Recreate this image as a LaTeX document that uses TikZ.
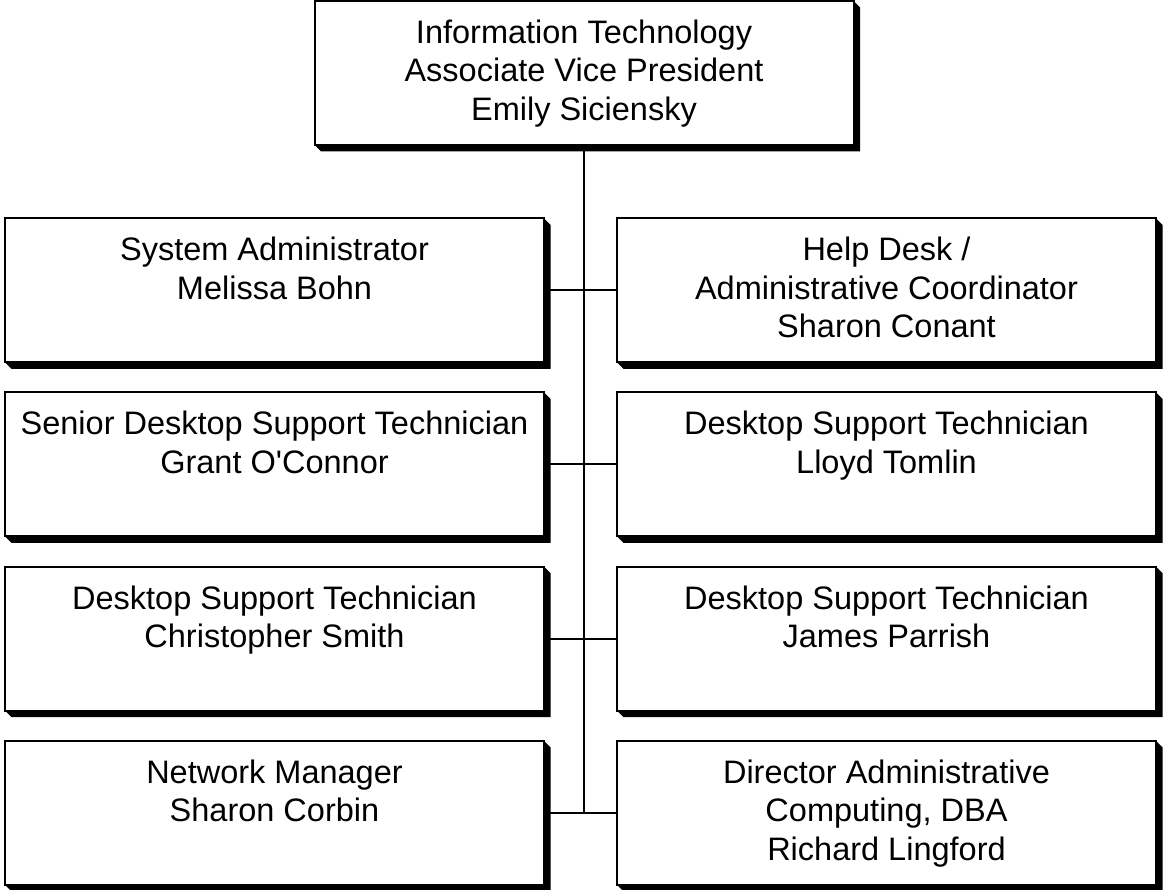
\documentclass[tikz,border=0pt]{standalone}
\usepackage{fontspec}
\newfontfamily\arial{Liberation Sans}
\newcommand\orgtext[1]{\begin{minipage}[t][144pt][t]{539pt}\centering\rule{0pt}{42.5pt}#1\end{minipage}}
\tikzset{
  orgbox/.style={draw, line width=2pt, fill=white, inner sep=0pt, outer sep=0pt, anchor=north west,
    font=\arial\fontsize{32.5}{38.3}\selectfont},
  link/.style={line width=2pt},
  shadowfill/.style={fill=black},
}
\begin{document}
\begin{tikzpicture}[x=1pt,y=1pt]
\useasboundingbox (0,0) rectangle (1163,-890);
\node[orgbox] (top) at (314.5,-1) {\orgtext{Information Technology\\Associate Vice President\\Emily Siciensky}};
\node[orgbox] (sa)  at (5,-218.3)   {\orgtext{System Administrator\\Melissa Bohn}};
\node[orgbox] (hd)  at (617,-218.3) {\orgtext{Help Desk /\\Administrative Coordinator\\Sharon Conant}};
\node[orgbox] (sd)  at (5,-392.5)   {\orgtext{Senior Desktop Support Technician\\Grant O'Connor}};
\node[orgbox] (lt)  at (617,-392.5) {\orgtext{Desktop Support Technician\\Lloyd Tomlin}};
\node[orgbox] (cs)  at (5,-566.7)   {\orgtext{Desktop Support Technician\\Christopher Smith}};
\node[orgbox] (jp)  at (617,-566.7) {\orgtext{Desktop Support Technician\\James Parrish}};
\node[orgbox] (nm)  at (5,-740.9)   {\orgtext{Network Manager\\Sharon Corbin}};
\node[orgbox] (rl)  at (617,-740.9) {\orgtext{Director Administrative\\Computing, DBA\\Richard Lingford}};
% shadows
\foreach \n in {top,sa,hd,sd,lt,cs,jp,nm,rl}{
  \fill[shadowfill] (\n.north east) -- ([shift={(6.5,-6.5)}]\n.north east)
    -- ([shift={(6.5,-6.5)}]\n.south east) -- ([shift={(6.5,-6.5)}]\n.south west)
    -- (\n.south west) -- (\n.south east) -- cycle;
}
% links
\draw[link] (top.south) -- (top.south |- nm.east);
\draw[link] (sa.east) -- (hd.west);
\draw[link] (sd.east) -- (lt.west);
\draw[link] (cs.east) -- (jp.west);
\draw[link] (nm.east) -- (rl.west);
\end{tikzpicture}
\end{document}
